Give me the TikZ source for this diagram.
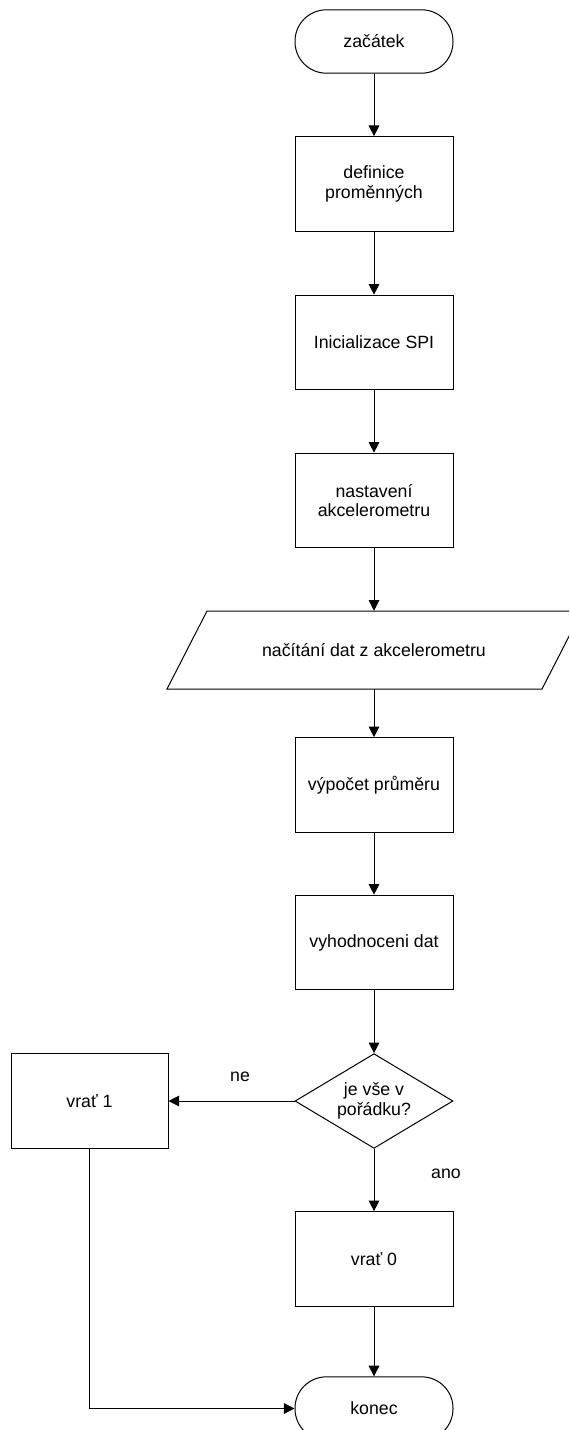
\documentclass[tikz,border=0pt]{standalone}
\usepackage{fontspec}
\setmainfont{Liberation Sans}
\usetikzlibrary{shapes.geometric,arrows.meta}
\begin{document}
\begin{tikzpicture}[x=0.75pt,y=-0.75pt,
  every node/.style={font=\fontsize{13.3}{14.5}\selectfont, align=center},
  proc/.style={draw, line width=0.75pt, minimum width=118.5pt, minimum height=71pt, inner sep=0pt},
  term/.style={draw, line width=0.75pt, rounded corners=23.5pt, minimum width=118.5pt, minimum height=47.5pt, inner sep=0pt},
  decision/.style={diamond, draw, line width=0.75pt, aspect=1.66, minimum width=118.5pt, minimum height=71pt, inner sep=0pt},
  iobox/.style={minimum width=290pt, minimum height=58.5pt, inner sep=0pt},
  flow/.style={draw, line width=0.75pt, -{Triangle[length=8pt,width=8pt]}},
  lbl/.style={inner sep=0pt}
]
\useasboundingbox (0,0) rectangle (569,1430);
\clip (0,0) rectangle (569,1430);

% main column
\node[term] (start) at (374,41.5) {začátek};
\node[proc] (defs) at (374,184) {definice\\proměnných};
\node[proc] (spi) at (374,342.5) {Inicializace SPI};
\node[proc] (setup) at (374,500.5) {nastavení\\akcelerometru};

% input/output parallelogram
\draw[line width=0.75pt] (167,689) -- (542,689) -- (582,611) -- (207,611) -- cycle;
\node[iobox] (read) at (374,650) {načítání dat z akcelerometru};

\node[proc] (avg) at (374,785) {výpočet průměru};
\node[proc] (eval) at (374,942.5) {vyhodnoceni dat};
\node[decision] (check) at (374,1101) {je vše v\\pořádku?};
\node[proc, minimum width=117.75pt] (ret1) at (89.5,1101) {vrať 1};
\node[proc] (ret0) at (374,1259) {vrať 0};
\node[term] (stop) at (374,1408.5) {konec};

% connectors
\draw[flow] (start) -- (defs);
\draw[flow] (defs) -- (spi);
\draw[flow] (spi) -- (setup);
\draw[flow] (setup) -- (read);
\draw[flow] (read) -- (avg);
\draw[flow] (avg) -- (eval);
\draw[flow] (eval) -- (check);
\draw[flow] (check) -- (ret1);
\draw[flow] (check) -- (ret0);
\draw[flow] (ret0) -- (stop);
\draw[flow] (ret1.south) |- (stop.west);

% branch labels
\node[lbl] (no) at (240,1077) {ne};
\node[lbl] (yes) at (446,1174) {ano};
\end{tikzpicture}
\end{document}
